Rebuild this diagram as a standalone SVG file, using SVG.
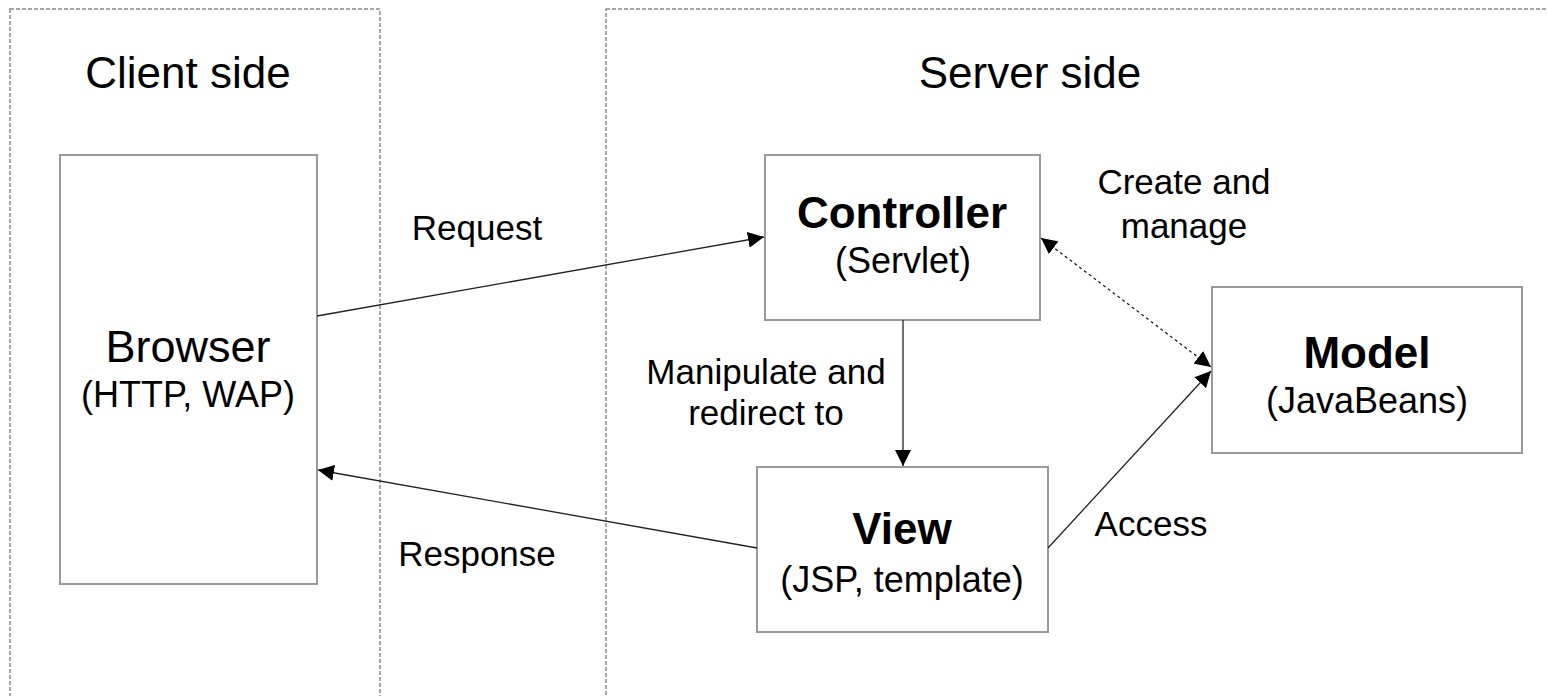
<svg xmlns="http://www.w3.org/2000/svg" width="1547" height="696" viewBox="0 0 1547 696">
<style>
.region{fill:none;stroke:#8a8a8a;stroke-width:1.5;stroke-dasharray:4 2}
.box{fill:#fff;stroke:#9a9a9a;stroke-width:2}
.t{font-family:"Liberation Sans",Arial,sans-serif;fill:#000;text-anchor:middle}
.title{font-size:44px}
.name{font-size:44px;font-weight:bold}
.sub{font-size:36px}
.lbl{font-size:35px}
.conn{stroke:#222;stroke-width:1.3;fill:none}
.dot{stroke-dasharray:3 3}
</style>
<defs>
<marker id="ah" viewBox="0 0 10 10" refX="10" refY="5" markerWidth="16" markerHeight="16" markerUnits="userSpaceOnUse" orient="auto-start-reverse">
<path d="M0,0 L10,5 L0,10 z" fill="#000"/>
</marker>
</defs>
<g id="regions">
<rect class="region" x="10" y="9" width="370" height="700"/>
<rect class="region" x="606" y="9" width="960" height="700"/>
<text class="t title" x="188" y="88">Client side</text>
<text class="t title" x="1030" y="88">Server side</text>
</g>
<g id="browser">
<rect class="box" x="60" y="155" width="257" height="429"/>
<text class="t" x="188" y="362" font-size="45">Browser</text>
<text class="t sub" x="188" y="407">(HTTP, WAP)</text>
</g>
<g id="controller">
<rect class="box" x="765" y="155" width="275" height="165"/>
<text class="t name" x="902" y="228">Controller</text>
<text class="t sub" x="903" y="273">(Servlet)</text>
</g>
<g id="model">
<rect class="box" x="1212" y="287" width="310" height="166"/>
<text class="t name" x="1367" y="368">Model</text>
<text class="t sub" x="1367" y="413">(JavaBeans)</text>
</g>
<g id="view">
<rect class="box" x="757" y="467" width="291" height="165"/>
<text class="t name" x="902" y="544">View</text>
<text class="t sub" x="902" y="592">(JSP, template)</text>
</g>
<g id="connectors">
<line class="conn" x1="317" y1="316" x2="764" y2="237" marker-end="url(#ah)"/>
<line class="conn" x1="757" y1="548" x2="318" y2="470" marker-end="url(#ah)"/>
<line class="conn" x1="903" y1="320" x2="903" y2="466" marker-end="url(#ah)"/>
<line class="conn dot" x1="1041" y1="238" x2="1211" y2="367" marker-start="url(#ah)" marker-end="url(#ah)"/>
<line class="conn" x1="1048" y1="548" x2="1211" y2="371" marker-end="url(#ah)"/>
<text class="t lbl" x="477" y="240">Request</text>
<text class="t lbl" x="477" y="566">Response</text>
<text class="t lbl" x="1184" y="194">Create and</text>
<text class="t lbl" x="1184" y="238">manage</text>
<text class="t lbl" x="766" y="384">Manipulate and</text>
<text class="t lbl" x="766" y="425">redirect to</text>
<text class="t lbl" x="1151" y="536">Access</text>
</g>
</svg>
